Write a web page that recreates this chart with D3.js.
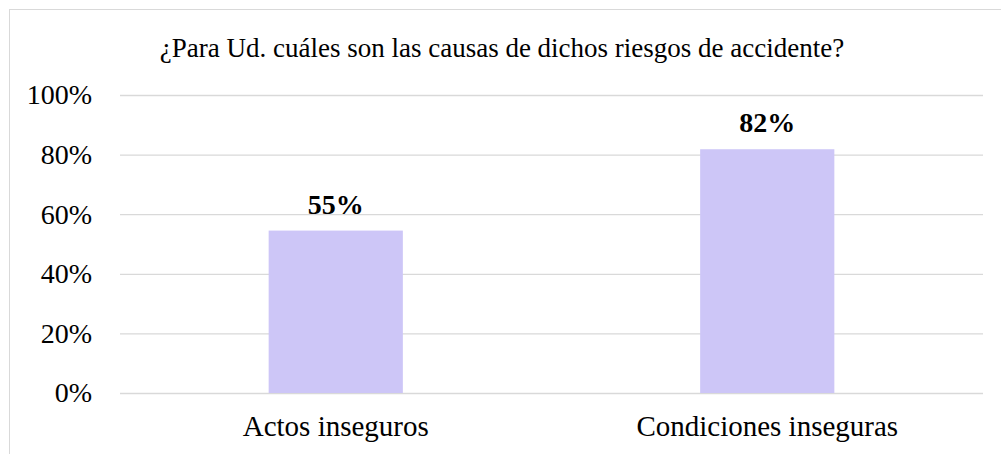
<!DOCTYPE html>
<html>
<head>
<meta charset="utf-8">
<script src="https://cdn.jsdelivr.net/npm/d3@7"></script>
<style>
    body { margin: 0; background: white; }
</style>
</head>
<body>
<main></main>
<script>
let categories = ["Actos inseguros", "Condiciones inseguras"]
let values = [0.545, 0.818]
let yTicks = [0, 0.2, 0.4, 0.6, 0.8, 1]
let title = "¿Para Ud. cuáles son las causas de dichos riesgos de accidente?"

const svgWidth = 1001
const svgHeight = 454

const plotLeft = 120
const plotRight = 983
const plotTop = 95
const plotBottom = 393

const font = "'Liberation Serif', 'Times New Roman', serif"

let svg = d3.select("main")
    .append("svg")
    .attr("width", svgWidth)
    .attr("height", svgHeight)
    .style("display", "block")

/* chart border, cut off on the right and bottom */
svg.append("rect")
    .attr("x", 9.5)
    .attr("y", 9.5)
    .attr("width", 1000)
    .attr("height", 470)
    .attr("fill", "white")
    .attr("stroke", "#d9d9d9")

svg.append("text")
    .attr("x", 502)
    .attr("y", 57)
    .attr("text-anchor", "middle")
    .style("font-family", font)
    .style("font-size", "27px")
    .attr("fill", "#000")
    .text(title)

/* scales */

let yScale = d3.scaleLinear()
    .domain([0, 1])
    .range([plotBottom, plotTop])

let xScale = d3.scaleBand()
    .domain(categories)
    .range([plotLeft, plotRight])
    .paddingInner(0.689)
    .paddingOuter(0.3445)

/* gridlines + y labels via axis */

let leftAxis = d3.axisLeft(yScale)
    .tickValues(yTicks)
    .tickFormat(d3.format(".0%"))
    .tickSize(-(plotRight - plotLeft))
    .tickPadding(28)

let yAxis = svg.append("g")
    .attr("transform", `translate(${plotLeft}, 0)`)
    .call(leftAxis)

yAxis.select(".domain").remove()

yAxis.selectAll("line")
    .attr("stroke", "#d9d9d9")
    .attr("stroke-width", 1.3)

yAxis.selectAll("text")
    .style("font-family", font)
    .style("font-size", "28px")
    .attr("fill", "#000")

/* bars */

let graph = svg.append("g")

graph.selectAll("rect")
    .data(values)
    .enter()
    .append("rect")
    .attr("x", (d, i) => xScale(categories[i]))
    .attr("y", (d) => yScale(d))
    .attr("width", xScale.bandwidth())
    .attr("height", (d) => plotBottom - yScale(d))
    .attr("fill", "#cdc6f7")

graph.selectAll("text")
    .data(values)
    .enter()
    .append("text")
    .attr("x", (d, i) => xScale(categories[i]) + xScale.bandwidth() / 2)
    .attr("y", (d) => yScale(d) - 17)
    .attr("text-anchor", "middle")
    .style("font-family", font)
    .style("font-size", "28px")
    .style("font-weight", "bold")
    .attr("fill", "#000")
    .text((d) => d3.format(".0%")(d))

/* category axis */

let bottomAxis = d3.axisBottom(xScale)
    .tickSize(0)
    .tickPadding(22)

let xAxis = svg.append("g")
    .attr("transform", `translate(0, ${plotBottom})`)
    .call(bottomAxis)

xAxis.select(".domain").remove()

xAxis.selectAll("text")
    .style("font-family", font)
    .style("font-size", "29px")
    .attr("fill", "#000")
</script>
</body>
</html>
